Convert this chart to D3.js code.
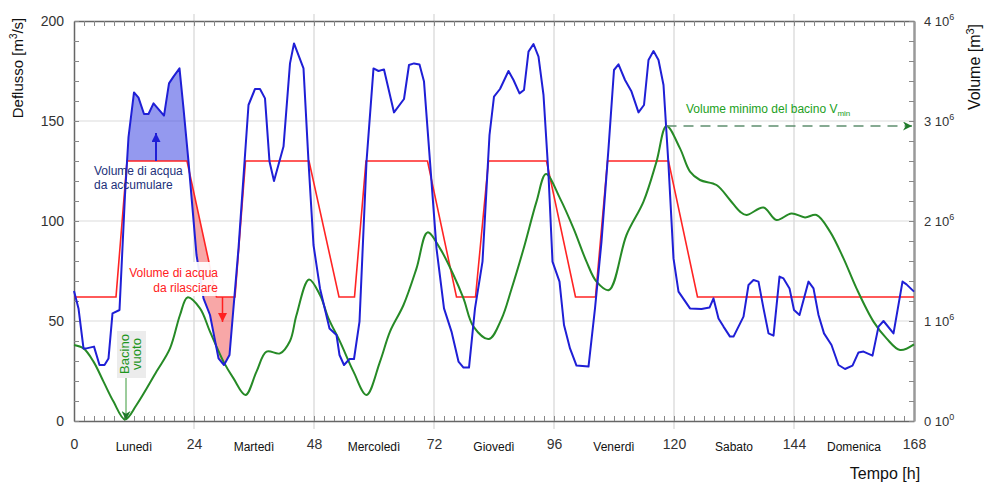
<!DOCTYPE html>
<html>

<head>
  <meta charset="UTF-8">
  <style>
    body { margin: 0; background: #fff; }
    svg { font-family: "Liberation Sans", Arial, sans-serif; }
  </style>
</head>

<body>
  <svg></svg>
  <script src="https://d3js.org/d3.v7.min.js"></script>

  <script>

    let width = 985, height = 483;

    // inflow (Deflusso) [m3/s], read hour by hour off the picture
    let flowHours = [0, 0.9, 1.9, 2.5, 4, 5.1, 6.1, 6.9, 7.7, 9.1, 10.2, 10.9, 12, 12.9, 14, 14.9, 15.9, 18, 19, 19.9,
      21.1, 21.9, 22.9, 24.5, 25.9, 27.2, 28.9, 30, 31.1, 32.9, 34.9, 36.2, 37.2, 38.2, 39.1, 40, 41.9, 43.2, 44,
      45.9, 46.9, 47.9, 49.2, 51.1, 52.5, 53.1, 54, 55.1, 56, 57.1, 58.5, 59.9, 60.9, 62, 64, 66, 67, 68, 69.1,
      70, 71.2, 72.5, 74, 75.5, 76.9, 77.9, 79, 80.2, 81.7, 83.1, 84, 85.2, 86.9, 87.9, 89.1, 90, 90.9, 91.9,
      92.9, 93.9, 94.9, 95.7, 97.1, 98, 99.2, 100.5, 102.9, 104.2, 105.5, 106.9, 108, 108.9, 110.2, 111.5, 112.9,
      114, 114.9, 115.9, 116.9, 117.9, 118.9, 119.9, 120.9, 123.2, 125.5, 127.1, 127.9, 128.9, 129.9, 131.2,
      131.9, 133.9, 134.9, 135.9, 136.9, 137.9, 138.9, 139.9, 141.1, 141.9, 143.1, 144, 145.1, 146.9, 147.9,
      148.9, 150, 151.5, 152.9, 154.2, 155.7, 156.9, 157.9, 159.7, 160.9, 161.9, 163.9, 165.7, 166.5, 168];
    let flowValues = [65, 56.3, 36.3, 36.3, 37.2, 28, 28, 31.3, 53.8, 55.5, 113, 142, 164.3, 161.7, 153.5, 153.5, 158.8, 152.7, 168.8, 172.2,
      176.3, 156.3, 129.7, 83, 61.3, 53, 31.3, 28, 33, 86.3, 158, 166, 166, 161.3, 129.7, 120, 137.2, 178.8, 188.8,
      176.3, 129.7, 88, 66.3, 46.3, 43, 33, 28, 31, 31, 49.7, 129.7, 176.3, 175, 175.8, 154.3, 161, 178, 178.8, 178.3,
      169.7, 129.7, 86.3, 56.3, 44.7, 29.7, 26.7, 26.7, 56.3, 79.7, 143, 162.2, 166, 175, 170.5, 163.8, 165.5, 184.7, 188.5,
      182.2, 163, 123, 79.7, 69.7, 48, 36.3, 27.7, 27.2, 56.3, 89.7, 136.3, 175.5, 178.3, 170.5, 164.7, 154.3,
      158, 180.5, 185, 180.5, 168, 128, 81.3, 64.7, 56.3, 56, 56.7, 61.3, 51.3, 47.2, 42.2,
      42.2, 52.2, 68, 70.5, 69.7, 56.3, 43.8, 42.7, 72.2, 71.3, 66.3, 55.5, 53, 69.7, 66.3,
      53, 43.8, 38, 28, 26, 27.7, 34.3, 34.7, 32.7, 47.2, 50, 43.8, 69.7, 68.3, 64.7];

    // regulated release [m3/s]
    let outHours = [0, 8.4, 10.6, 22.6, 28.5, 32.2, 34.3, 47, 53, 56.1, 58.4, 70.7, 76.5, 80.3, 82.9, 94.5,
      100.3, 104.3, 106.7, 118.9, 124.7, 168];
    let outValues = [62, 62, 130, 130, 62, 62, 130, 130, 62, 62, 130, 130, 62, 62, 130, 130,
      62, 62, 130, 130, 62, 62];

    // basin volume [10^6 m3]
    let volHours = [0, 1.9, 3.9, 5.9, 7.9, 10.2, 12.5, 16.5, 19.2, 21.2, 22.7, 25.2, 27.2, 29.9, 31.9, 34.3, 36.5,
      38.5, 41.2, 43.2, 44.5, 47, 49.2, 50.9, 53.2, 55.9, 58.5, 61.2, 63.2, 65.9, 68.5, 70.7, 73.2, 75.9, 77.9,
      79.9, 83, 85.5, 87.5, 89.9, 92.5, 94.4, 97.2, 99.9, 102.5, 104.5, 107, 110.5, 113.9, 116.5, 118.5, 121.2,
      123.2, 125.2, 128.5, 131.2, 133.2, 134.5, 137.9, 140.5, 143.5, 146.2, 148.5, 151.2, 153.9, 156.5, 159.9,
      162.5, 165.2, 168];
    let volValues = [0.76, 0.726, 0.594, 0.394, 0.194, 0.016, 0.16, 0.494, 0.726, 1.06, 1.236, 1.126, 0.894, 0.594, 0.426, 0.26, 0.494,
      0.694, 0.676, 0.8, 1.06, 1.416, 1.26, 1.026, 0.794, 0.494, 0.26, 0.594, 0.894, 1.16, 1.526, 1.886, 1.726, 1.46, 1.226,
      0.944, 0.82, 1.02, 1.32, 1.72, 2.194, 2.47, 2.226, 1.926, 1.594, 1.394, 1.31, 1.86, 2.194, 2.594, 2.95, 2.726,
      2.494, 2.41, 2.36, 2.21, 2.094, 2.06, 2.134, 2.01, 2.076, 2.036, 2.06, 1.894, 1.626, 1.326, 0.994,
      0.826, 0.71, 0.766];

    let vMin = 2.95;
    let vMinHour = 118.5;

    let hourTicks = [0, 24, 48, 72, 96, 120, 144, 168];
    let dayNames = ["Lunedì", "Martedì", "Mercoledì", "Giovedì", "Venerdì", "Sabato", "Domenica"];
    let flowTicks = [0, 50, 100, 150, 200];
    let volTicks = [0, 1, 2, 3, 4];

    let flowPts = d3.zip(flowHours, flowValues);
    let outPts = d3.zip(outHours, outValues);
    let volPts = d3.zip(volHours, volValues);

    let x = d3.scaleLinear().domain([0, 168]).range([74, 914]);
    let y = d3.scaleLinear().domain([0, 200]).range([421, 21]);
    let yV = d3.scaleLinear().domain([0, 4]).range([421, 21]);

    let svg = d3.select("svg")
      .attr("width", width)
      .attr("height", height)
      .attr("viewBox", "0 0 " + width + " " + height);

    let defs = svg.append("defs");

    function marker(id, color, notch) {
      defs.append("marker")
        .attr("id", id)
        .attr("viewBox", "0 0 10 10")
        .attr("refX", 10).attr("refY", 5)
        .attr("markerUnits", "userSpaceOnUse")
        .attr("markerWidth", 11).attr("markerHeight", 9)
        .attr("orient", "auto")
        .append("path")
        .attr("d", notch ? "M0,0L10,5L0,10L3,5Z" : "M0,0L10,5L0,10Z")
        .attr("fill", color);
    }
    marker("arBlue", "#1f1fd6", false);
    marker("arRed", "#ff2020", false);
    marker("arGreen", "#1f7a2a", true);

    // clip regions for the two shaded volumes
    defs.append("clipPath").attr("id", "aboveRed")
      .append("path")
      .attr("d", d3.area().x(d => x(d[0])).y0(0).y1(d => y(d[1]))(outPts));
    defs.append("clipPath").attr("id", "aboveBlue")
      .append("path")
      .attr("d", d3.area().x(d => x(d[0])).y0(0).y1(d => y(d[1]))(flowPts));
    defs.append("clipPath").attr("id", "day1a")
      .append("rect").attr("x", x(10)).attr("width", x(22.8) - x(10)).attr("y", 0).attr("height", height);
    defs.append("clipPath").attr("id", "day1b")
      .append("rect").attr("x", x(22.5)).attr("width", x(33) - x(22.5)).attr("y", 0).attr("height", height);

    // grid
    svg.append("g")
      .selectAll("line")
      .data(hourTicks.slice(1, -1))
      .enter()
      .append("line")
      .attr("x1", d => x(d)).attr("x2", d => x(d))
      .attr("y1", 14).attr("y2", 429)
      .attr("stroke", "#d6d6d6").attr("stroke-width", 1.2);
    svg.append("g")
      .selectAll("line")
      .data(flowTicks.slice(1, -1))
      .enter()
      .append("line")
      .attr("x1", x(0)).attr("x2", x(168))
      .attr("y1", d => y(d)).attr("y2", d => y(d))
      .attr("stroke", "#dcdcdc").attr("stroke-width", 1.2);

    // shaded volumes
    svg.append("g").attr("clip-path", "url(#day1a)")
      .append("g").attr("clip-path", "url(#aboveRed)")
      .append("path")
      .attr("d", d3.area().x(d => x(d[0])).y0(y(0)).y1(d => y(d[1]))(flowPts))
      .attr("fill", "rgba(60,70,225,0.55)");
    svg.append("g").attr("clip-path", "url(#day1b)")
      .append("g").attr("clip-path", "url(#aboveBlue)")
      .append("path")
      .attr("d", d3.area().x(d => x(d[0])).y0(y(0)).y1(d => y(d[1]))(outPts))
      .attr("fill", "rgba(240,60,60,0.45)");

    // frame with minor ticks
    let minorX = d3.range(0, 169, 2);
    let minorY = d3.range(0, 201, 10);
    svg.append("g").attr("class", "frame")
      .attr("transform", "translate(0," + y(0) + ")")
      .call(d3.axisTop(x).tickValues(minorX).tickSize(5).tickSizeOuter(0).tickFormat(""));
    svg.append("g").attr("class", "frame")
      .attr("transform", "translate(0," + y(200) + ")")
      .call(d3.axisBottom(x).tickValues(minorX).tickSize(5).tickSizeOuter(0).tickFormat(""));
    svg.append("g").attr("class", "frame")
      .attr("transform", "translate(" + x(0) + ",0)")
      .call(d3.axisRight(y).tickValues(minorY).tickSize(5).tickSizeOuter(0).tickFormat(""));
    svg.append("g").attr("class", "frame right")
      .attr("transform", "translate(" + x(168) + ",0)")
      .call(d3.axisLeft(yV).tickValues(d3.range(0, 4.01, 0.2)).tickSize(5).tickSizeOuter(0).tickFormat(""));
    svg.selectAll(".frame path").attr("stroke", "#666").attr("stroke-width", 1.5);
    svg.selectAll(".frame line").attr("stroke", "#888");
    svg.selectAll(".right path").attr("stroke", "#999").attr("stroke-width", 2.5);

    // series
    svg.append("path")
      .attr("d", d3.line().x(d => x(d[0])).y(d => y(d[1]))(outPts))
      .attr("fill", "none").attr("stroke", "#ff2424").attr("stroke-width", 1.6);
    svg.append("path")
      .attr("d", d3.line().curve(d3.curveCatmullRom).x(d => x(d[0])).y(d => yV(d[1]))(volPts))
      .attr("fill", "none").attr("stroke", "#268a26").attr("stroke-width", 2);
    svg.append("path")
      .attr("d", d3.line().x(d => x(d[0])).y(d => y(d[1]))(flowPts))
      .attr("fill", "none").attr("stroke", "#1f1fd6").attr("stroke-width", 2)
      .attr("stroke-linejoin", "round");

    // tick labels
    let bottom = svg.append("g")
      .attr("transform", "translate(0," + y(0) + ")")
      .call(d3.axisBottom(x).tickValues(hourTicks).tickSize(0).tickPadding(18));
    bottom.select(".domain").remove();
    bottom.selectAll("text").attr("font-size", 14).attr("fill", "#333").attr("font-family", null);

    svg.append("g")
      .selectAll("text")
      .data(dayNames)
      .enter()
      .append("text")
      .attr("x", (d, i) => x(12 + 24 * i))
      .attr("y", 451)
      .attr("text-anchor", "middle")
      .attr("font-size", 12)
      .attr("fill", "#111")
      .text(d => d);

    let left = svg.append("g")
      .attr("transform", "translate(" + x(0) + ",0)")
      .call(d3.axisLeft(y).tickValues(flowTicks).tickSize(0).tickPadding(10));
    left.select(".domain").remove();
    left.selectAll("text").attr("font-size", 14).attr("fill", "#333").attr("font-family", null);

    let rightLab = svg.append("g")
      .selectAll("text")
      .data(volTicks)
      .enter()
      .append("text")
      .attr("x", x(168) + 10)
      .attr("y", d => yV(d) + 5)
      .attr("font-size", 13)
      .attr("fill", "#333");
    rightLab.append("tspan").text(d => d + " 10");
    rightLab.append("tspan").attr("dy", -6).attr("font-size", 9).text(d => d == 0 ? "0" : "6");

    // axis titles
    let ttl = svg.append("text")
      .attr("transform", "translate(23,68) rotate(-90)")
      .attr("text-anchor", "middle")
      .attr("font-size", 15)
      .attr("fill", "#111");
    ttl.append("tspan").text("Deflusso [m");
    ttl.append("tspan").attr("dy", -6).attr("font-size", 10).text("3");
    ttl.append("tspan").attr("dy", 6).text("/s]");

    let ttr = svg.append("text")
      .attr("transform", "translate(980,67) rotate(-90)")
      .attr("text-anchor", "middle")
      .attr("font-size", 16)
      .attr("fill", "#111");
    ttr.append("tspan").text("Volume  [m");
    ttr.append("tspan").attr("dy", -6).attr("font-size", 11).text("3");
    ttr.append("tspan").attr("dy", 6).text("]");

    svg.append("text")
      .attr("x", 885).attr("y", 479)
      .attr("text-anchor", "middle")
      .attr("font-size", 16)
      .attr("fill", "#111")
      .text("Tempo [h]");

    // annotation: volume to store
    svg.append("line")
      .attr("x1", 156).attr("x2", 156)
      .attr("y1", y(130)).attr("y2", y(144))
      .attr("stroke", "#1f1fd6").attr("stroke-width", 2)
      .attr("marker-end", "url(#arBlue)");
    svg.append("g")
      .selectAll("text")
      .data(["Volume di acqua", "da accumulare"])
      .enter()
      .append("text")
      .attr("x", 94)
      .attr("y", (d, i) => 175 + 14 * i)
      .attr("font-size", 12)
      .attr("fill", "#22307a")
      .text(d => d);

    // annotation: volume to release
    svg.append("rect")
      .attr("x", 123).attr("y", 262).attr("width", 96).attr("height", 34)
      .attr("fill", "#fff").attr("opacity", 0.92);
    svg.append("g")
      .selectAll("text")
      .data(["Volume di acqua", "da rilasciare"])
      .enter()
      .append("text")
      .attr("x", 218)
      .attr("y", (d, i) => 277 + 15 * i)
      .attr("text-anchor", "end")
      .attr("font-size", 12)
      .attr("fill", "#ff2020")
      .text(d => d);
    svg.append("line")
      .attr("x1", 222.5).attr("x2", 222.5)
      .attr("y1", y(62)).attr("y2", y(49.5))
      .attr("stroke", "#ff2020").attr("stroke-width", 1.5)
      .attr("marker-end", "url(#arRed)");

    // annotation: empty basin
    svg.append("rect")
      .attr("x", 117).attr("y", 331).attr("width", 29).attr("height", 47)
      .attr("fill", "#ececec");
    svg.append("g")
      .selectAll("text")
      .data(["Bacino", "vuoto"])
      .enter()
      .append("text")
      .attr("transform", (d, i) => "translate(" + (129 + 12 * i) + ",354) rotate(-90)")
      .attr("text-anchor", "middle")
      .attr("font-size", 13)
      .attr("fill", "#1e961e")
      .text(d => d);
    svg.append("line")
      .attr("x1", 126).attr("x2", 126)
      .attr("y1", 378).attr("y2", yV(0) - 1)
      .attr("stroke", "#3a9a3a").attr("stroke-width", 1)
      .attr("marker-end", "url(#arGreen)");

    // annotation: minimum basin volume
    svg.append("line")
      .attr("x1", x(vMinHour)).attr("x2", x(168) - 2)
      .attr("y1", yV(vMin)).attr("y2", yV(vMin))
      .attr("stroke", "#5f8f6f").attr("stroke-width", 1.5)
      .attr("stroke-dasharray", "10,7")
      .attr("marker-end", "url(#arGreen)");
    let vm = svg.append("text")
      .attr("x", 686).attr("y", 113)
      .attr("font-size", 12)
      .attr("fill", "#22a022");
    vm.append("tspan").text("Volume minimo del bacino V");
    vm.append("tspan").attr("dy", 3).attr("font-size", 8).text("min");

  </script>

</body>

</html>
